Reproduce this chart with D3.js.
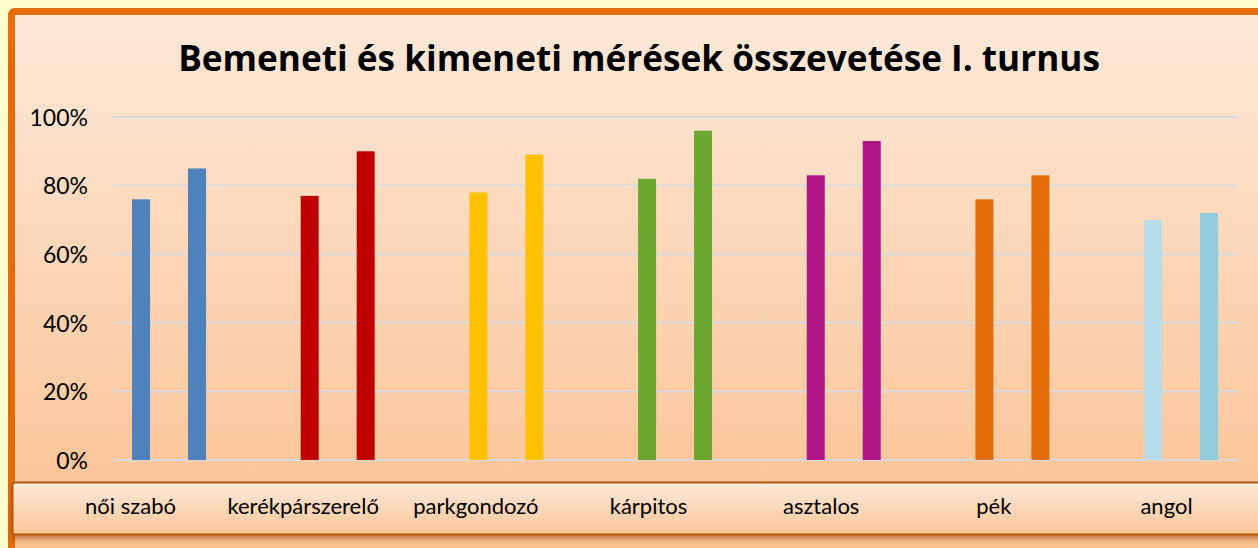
<!DOCTYPE html>
<html>
<head>
<meta charset="utf-8">
<script src="https://cdn.jsdelivr.net/npm/d3@7"></script>
<style>
  body { margin: 0; background: #ffffcc; }
  svg { display: block; }
  text { font-family: Lato, "Open Sans", sans-serif; fill: #000; }
</style>
</head>
<body>
<div id="chart"></div>
<script>
// data
var categories = ['női szabó', 'kerékpárszerelő', 'parkgondozó', 'kárpitos', 'asztalos', 'pék', 'angol'];
var bemeneti = [0.76, 0.77, 0.78, 0.82, 0.83, 0.76, 0.70];
var kimeneti = [0.85, 0.90, 0.89, 0.96, 0.93, 0.83, 0.72];
var colorsBe = ['#4f81bd', '#c00000', '#ffc000', '#6ea72f', '#b01786', '#e46c0a', '#b7dde8'];
var colorsKi = ['#4f81bd', '#c00000', '#ffc000', '#6ea72f', '#b01786', '#e46c0a', '#92cddc'];
var yTicks = [0, 0.2, 0.4, 0.6, 0.8, 1.0];
var title = 'Bemeneti és kimeneti mérések összevetése I. turnus';

var width = 1258, height = 548;

var svg = d3.select('#chart')
    .append('svg')
    .attr('width', width)
    .attr('height', height);

var defs = svg.append('defs');

// chart area gradient
var bg = defs.append('linearGradient').attr('id', 'bg')
    .attr('x1', 0).attr('y1', 0).attr('x2', 0).attr('y2', 1);
bg.append('stop').attr('offset', '0%').attr('stop-color', '#fde9d9');
bg.append('stop').attr('offset', '100%').attr('stop-color', '#fbbf8e');

// label box gradient
var lb = defs.append('linearGradient').attr('id', 'lb')
    .attr('x1', 0).attr('y1', 0).attr('x2', 0).attr('y2', 1);
lb.append('stop').attr('offset', '0%').attr('stop-color', '#feeadc');
lb.append('stop').attr('offset', '100%').attr('stop-color', '#fbc596');

var shadow = defs.append('filter').attr('id', 'shadow')
    .attr('x', '-5%').attr('y', '-20%').attr('width', '110%').attr('height', '160%');
shadow.append('feDropShadow')
    .attr('dx', 0).attr('dy', 4).attr('stdDeviation', 2.5)
    .attr('flood-color', '#8a3a00').attr('flood-opacity', 0.45);

// outer frame
svg.append('rect')
    .attr('x', 11.5).attr('y', 11.5)
    .attr('width', 1270).attr('height', 560)
    .attr('rx', 3)
    .attr('fill', 'url(#bg)')
    .attr('stroke', '#e46c0a')
    .attr('stroke-width', 7);

// Title - fit to the width of the original
var titleText = svg.append('text')
    .attr('x', 639)
    .attr('y', 71)
    .attr('text-anchor', 'middle')
    .style('font-family', '"Open Sans", Lato, sans-serif')
    .style('font-size', '32px')
    .style('font-weight', 'bold')
    .text(title);
var tw = titleText.node().getComputedTextLength();
titleText.style('font-size', (32 * 922 / tw) + 'px');

// Scales
var yScale = d3.scaleLinear()
    .domain([0, 1])
    .range([460, 117]);

var x0 = d3.scaleBand()
    .domain(categories)
    .range([84.6, 1265.4]);

var bw = x0.bandwidth();
var x1 = d3.scaleBand()
    .domain(['be', 'ki'])
    .range([bw * 0.281, bw * 0.7196])
    .paddingInner(0.6786);

// gridlines
svg.append('g')
    .selectAll('line')
    .data(yTicks)
    .enter()
    .append('line')
    .attr('x1', 113)
    .attr('x2', 1237)
    .attr('y1', function (d) { return yScale(d); })
    .attr('y2', function (d) { return yScale(d); })
    .attr('stroke', '#d9d9d9')
    .attr('stroke-width', 2);

// Y-axis
var yAxis = d3.axisLeft(yScale)
    .tickValues(yTicks)
    .tickFormat(d3.format('.0%'))
    .tickSize(0)
    .tickPadding(0);

var yg = svg.append('g')
    .attr('transform', 'translate(88,0)')
    .call(yAxis);
yg.select('.domain').remove();
yg.selectAll('text')
    .style('font-family', 'Lato, "Open Sans", sans-serif')
    .style('font-size', '23px')
    .attr('fill', '#000')
    .attr('dy', '0.36em');

// bars
var groups = svg.append('g')
    .selectAll('g')
    .data(categories)
    .enter()
    .append('g')
    .attr('transform', function (d) { return 'translate(' + x0(d) + ',0)'; });

groups.append('rect')
    .attr('x', x1('be'))
    .attr('width', x1.bandwidth())
    .attr('y', function (d, i) { return yScale(bemeneti[i]); })
    .attr('height', function (d, i) { return yScale(0) - yScale(bemeneti[i]); })
    .attr('fill', function (d, i) { return colorsBe[i]; });

groups.append('rect')
    .attr('x', x1('ki'))
    .attr('width', x1.bandwidth())
    .attr('y', function (d, i) { return yScale(kimeneti[i]); })
    .attr('height', function (d, i) { return yScale(0) - yScale(kimeneti[i]); })
    .attr('fill', function (d, i) { return colorsKi[i]; });

// category label box
svg.append('rect')
    .attr('x', 12.5).attr('y', 482.5)
    .attr('width', 1270).attr('height', 52)
    .attr('rx', 2)
    .attr('fill', 'url(#lb)')
    .attr('stroke', '#b5570f')
    .attr('stroke-width', 2)
    .attr('filter', 'url(#shadow)');

var xl = d3.scalePoint()
    .domain(categories)
    .range([130, 1166]);

var xAxis = d3.axisBottom(xl)
    .tickSize(0)
    .tickPadding(0);

var xg = svg.append('g')
    .attr('transform', 'translate(0,499)')
    .call(xAxis);
xg.select('.domain').remove();
xg.selectAll('text')
    .style('font-family', 'Lato, "Open Sans", sans-serif')
    .style('font-size', '22px')
    .attr('fill', '#000')
    .attr('dy', '0.7em');
</script>
</body>
</html>
